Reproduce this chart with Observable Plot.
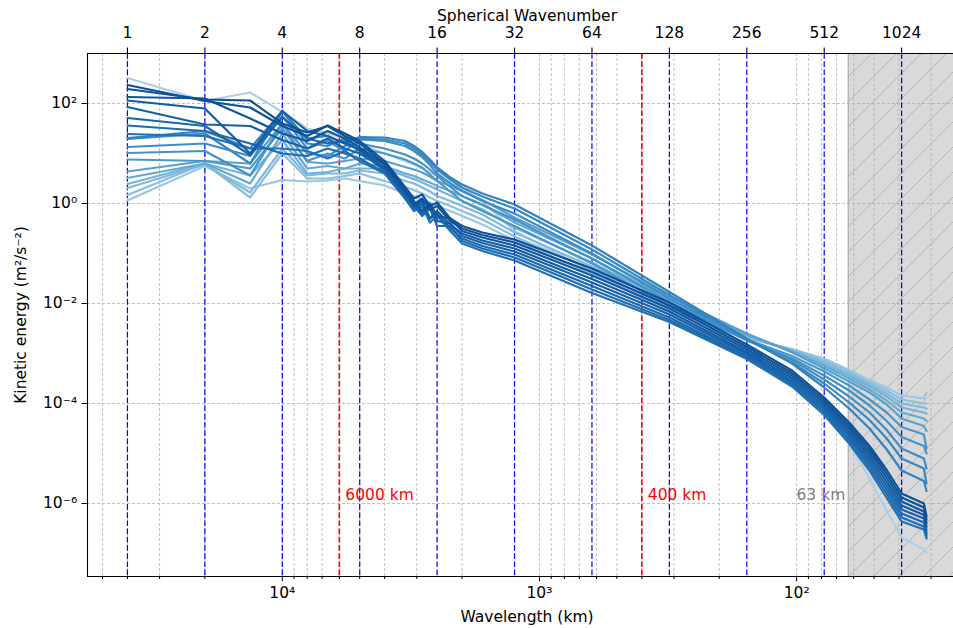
<!DOCTYPE html>
<html><head><meta charset="utf-8">
<script src="https://cdn.jsdelivr.net/npm/d3@7"></script>
<script src="https://cdn.jsdelivr.net/npm/@observablehq/plot@0.6"></script>
<style>
html,body{margin:0;padding:0;overflow:hidden;background:#fff;width:953px;height:628px}
#chart{width:966px;height:628px}
#chart svg{max-width:none !important;display:block}
</style>
</head><body><div id="chart"></div><script>
// ---------- data ----------
const EARTH_KM = 40000; // wavelength (km) = EARTH_KM / spherical wavenumber
const wavenumbers = [1,2,3,4,5,6,7,8,10,12,13,14,15,16,18,20,24,32,48,64,128,256,384,512,640,768,896,1024,1250,1280];
const seriesNames = ["s01","s02","s03","s04","s05","s06","s07","s08","s09","s10",
                     "s11","s12","s13","s14","s15","s16","s17","s18","s19","s20"];
// log10 of kinetic energy (m^2/s^2) at each wavenumber
const s01 = [2.51,2.05,2.22,1.83,1.5,1.4,1.3,1.2,1.0,0.85,0.78,0.7,0.62,0.55,0.42,0.3,0.05,-0.55,-1.02,-1.35,-2.2,-3.0,-3.55,-4.15,-4.8,-5.5,-6.15,-6.68,-6.92,-6.98];
const s02 = [2.37,2.05,1.92,1.55,1.35,1.56,1.4,1.25,0.85,0.33,0.1,0.18,-0.05,0.02,-0.3,-0.45,-0.58,-0.72,-1.06,-1.3,-1.98,-2.82,-3.34,-3.88,-4.38,-4.85,-5.33,-5.8,-6.0,-6.26];
const s03 = [2.29,2.08,2.06,1.6,1.42,1.55,1.35,1.2,0.8,0.28,-0.02,0.1,-0.12,-0.05,-0.35,-0.5,-0.63,-0.78,-1.13,-1.37,-2.04,-2.87,-3.39,-3.93,-4.44,-4.92,-5.41,-5.88,-6.08,-6.33];
const s04 = [2.13,2.1,1.7,1.4,1.25,1.45,1.3,1.12,0.78,0.25,0.05,-0.15,0.0,-0.25,-0.3,-0.55,-0.68,-0.84,-1.19,-1.44,-2.1,-2.92,-3.44,-3.98,-4.5,-4.99,-5.49,-5.96,-6.16,-6.4];
const s05 = [2.06,1.9,1.0,1.85,1.45,1.35,1.2,1.08,0.72,0.2,-0.05,0.05,-0.3,-0.15,-0.42,-0.6,-0.74,-0.9,-1.26,-1.51,-2.16,-2.97,-3.49,-4.03,-4.56,-5.06,-5.57,-6.04,-6.23,-6.47];
const s06 = [1.93,1.58,1.55,1.27,1.1,1.3,1.1,1.0,0.7,0.18,0.0,-0.2,-0.05,-0.35,-0.4,-0.65,-0.79,-0.96,-1.32,-1.58,-2.22,-3.01,-3.54,-4.08,-4.62,-5.13,-5.65,-6.12,-6.3,-6.54];
const s07 = [1.71,1.55,0.97,1.73,1.3,1.2,1.25,1.05,0.65,0.15,-0.1,0.0,-0.3,-0.2,-0.5,-0.7,-0.85,-1.02,-1.39,-1.65,-2.28,-3.05,-3.58,-4.13,-4.68,-5.2,-5.73,-6.2,-6.38,-6.6];
const s08 = [1.56,1.45,1.2,1.0,0.95,1.1,1.0,0.9,0.62,0.13,-0.05,-0.25,-0.1,-0.45,-0.45,-0.75,-0.9,-1.08,-1.45,-1.72,-2.33,-3.08,-3.62,-4.18,-4.74,-5.27,-5.81,-6.28,-6.46,-6.65];
const s09 = [1.39,1.35,1.1,1.1,1.05,0.9,1.05,0.85,0.6,0.1,-0.15,-0.05,-0.38,-0.25,-0.55,-0.8,-0.95,-1.14,-1.52,-1.79,-2.37,-3.11,-3.66,-4.23,-4.8,-5.34,-5.89,-6.36,-6.52,-6.7];
const s10 = [1.31,1.45,1.1,1.85,1.3,1.35,1.2,1.33,1.32,1.25,1.15,1.03,0.88,0.72,0.52,0.38,0.2,-0.02,-0.5,-0.84,-1.77,-2.7,-3.2,-3.68,-4.1,-4.5,-4.92,-5.34,-5.55,-5.75];
const s11 = [1.29,1.4,0.8,1.85,1.2,1.15,1.3,1.3,1.28,1.2,1.1,0.98,0.83,0.68,0.48,0.32,0.14,-0.1,-0.58,-0.92,-1.83,-2.72,-3.18,-3.6,-3.98,-4.33,-4.7,-5.1,-5.3,-5.6];
const s12 = [1.13,1.2,0.95,1.75,1.1,1.25,1.05,1.28,1.25,1.15,1.05,0.93,0.77,0.6,0.4,0.25,0.05,-0.2,-0.67,-1.0,-1.9,-2.73,-3.13,-3.52,-3.86,-4.18,-4.53,-4.9,-5.1,-5.3];
const s13 = [1.01,1.05,0.56,1.6,1.0,0.95,1.15,1.2,1.1,0.98,0.9,0.8,0.68,0.55,0.33,0.15,-0.03,-0.32,-0.78,-1.1,-1.97,-2.74,-3.1,-3.44,-3.74,-4.04,-4.35,-4.67,-4.85,-5.0];
const s14 = [0.88,0.85,0.7,1.5,0.85,1.0,0.9,1.1,1.0,0.88,0.8,0.72,0.58,0.45,0.24,0.05,-0.15,-0.45,-0.89,-1.2,-2.05,-2.72,-3.05,-3.36,-3.64,-3.92,-4.18,-4.47,-4.62,-4.9];
const s15 = [0.64,0.85,0.8,1.6,0.83,0.8,0.85,0.9,0.85,0.73,0.68,0.62,0.54,0.45,0.35,0.25,0.07,-0.28,-0.71,-1.02,-1.86,-2.6,-2.98,-3.3,-3.56,-3.78,-4.02,-4.3,-4.45,-4.55];
const s16 = [0.51,0.8,0.4,1.4,0.7,0.75,0.7,0.8,0.75,0.6,0.55,0.48,0.42,0.35,0.25,0.15,-0.02,-0.38,-0.8,-1.1,-1.92,-2.62,-2.96,-3.25,-3.5,-3.72,-3.94,-4.18,-4.3,-4.35];
const s17 = [0.39,0.8,0.56,1.27,0.6,0.63,0.7,0.7,0.7,0.55,0.49,0.42,0.35,0.28,0.16,0.05,-0.12,-0.48,-0.89,-1.18,-1.97,-2.64,-2.95,-3.22,-3.45,-3.66,-3.86,-4.08,-4.18,-4.2];
const s18 = [0.31,0.78,0.22,1.1,0.56,0.6,0.6,0.66,0.6,0.45,0.4,0.32,0.24,0.15,0.05,-0.05,-0.22,-0.58,-0.98,-1.26,-2.02,-2.66,-2.93,-3.18,-3.41,-3.62,-3.8,-4.0,-4.08,-4.1];
const s19 = [0.17,0.8,0.12,1.0,0.5,0.5,0.55,0.6,0.45,0.33,0.27,0.2,0.12,0.05,-0.05,-0.15,-0.32,-0.66,-1.05,-1.33,-2.07,-2.68,-2.92,-3.14,-3.37,-3.58,-3.74,-3.92,-4.0,-4.0];
const s20 = [0.06,0.75,0.3,0.47,0.44,0.46,0.5,0.45,0.36,0.2,0.15,0.08,0.02,-0.05,-0.15,-0.25,-0.42,-0.74,-1.13,-1.4,-2.12,-2.7,-2.91,-3.1,-3.33,-3.54,-3.68,-3.84,-3.9,-3.78];
const log10Energy = [s01,s02,s03,s04,s05,s06,s07,s08,s09,s10,s11,s12,s13,s14,s15,s16,s17,s18,s19,s20];

const topWavenumbers = [1,2,4,8,16,32,64,128,256,512,1024];
const markerWavelengths = [6000, 400];
const markerLabels = ["6000 km", "400 km"];
const cutoffWavelength = 63;
const cutoffLabel = "63 km";
const bottomMajorTicks = [1e4, 1e3, 1e2];
const bottomMinorTicks = [50000,40000,30000,20000,9000,8000,7000,6000,5000,4000,3000,2000,
                          900,800,700,600,500,400,300,200,90,80,70,60,50,40,30];
const yTicks = [1e2, 1e0, 1e-2, 1e-4, 1e-6];

// ---------- styles ----------
const lineShades = [0.33,0.88,0.87,0.85,0.83,0.81,0.79,0.77,0.75,0.68,0.66,0.64,0.62,0.6,0.56,0.52,0.48,0.45,0.42,0.38];
const xDomain = [10 ** 4.7574, 10 ** 1.3395];
const yDomain = [10 ** -7.46, 10 ** 3];
const FS = 15.5;

const SUP = {"-":"⁻","0":"⁰","1":"¹","2":"²","3":"³","4":"⁴","5":"⁵","6":"⁶","7":"⁷","8":"⁸","9":"⁹"};
const pow10 = d => "10" + String(Math.round(Math.log10(d))).split("").map(c => SUP[c]).join("");

const order = d3.range(seriesNames.length).sort((a, b) => lineShades[a] - lineShades[b]);
const rows = [];
for (const i of order) {
  wavenumbers.forEach((n, j) => rows.push({series: seriesNames[i], km: EARTH_KM / n, E: 10 ** log10Energy[i][j]}));
}

const chart = Plot.plot({
  width: 966, height: 628,
  marginLeft: 87, marginRight: 0, marginTop: 53, marginBottom: 52,
  style: {fontFamily: "'DejaVu Sans', sans-serif", fontSize: FS + "px", background: "transparent", maxWidth: "none", overflow: "visible"},
  x: {type: "log", domain: xDomain},
  y: {type: "log", domain: yDomain},
  color: {type: "ordinal", domain: seriesNames, range: lineShades.map(t => d3.interpolateBlues(t))},
  marks: [
    Plot.rect([cutoffWavelength], {x1: d => d, x2: xDomain[1], fill: "#d9d9d9"}),
    Plot.rect([cutoffWavelength], {x1: d => d, x2: xDomain[1], fill: "url(#hatch)"}),
    Plot.ruleX([cutoffWavelength], {stroke: "#a6a6a6", strokeWidth: 1}),
    Plot.ruleX([...bottomMajorTicks, ...bottomMinorTicks], {stroke: "#b0b0b0", strokeWidth: 0.8, strokeDasharray: "3,2"}),
    Plot.ruleY(yTicks, {stroke: "#b0b0b0", strokeWidth: 0.8, strokeDasharray: "3,2"}),
    Plot.ruleX(topWavenumbers, {x: n => EARTH_KM / n, stroke: "blue", strokeWidth: 1.2, strokeDasharray: "5.7,2.5"}),
    Plot.ruleX(markerWavelengths, {stroke: "red", strokeWidth: 1.6, strokeDasharray: "5.7,2.5"}),
    Plot.line(rows, {x: "km", y: "E", z: "series", stroke: "series", strokeWidth: 2.2, strokeLinejoin: "round", strokeLinecap: "round"}),
    Plot.text(markerWavelengths, {x: d => d, y: 1e-6, text: (d, i) => markerLabels[i], textAnchor: "start", dx: 6, dy: -8.5, lineAnchor: "middle", fill: "red", fontSize: FS}),
    Plot.text([cutoffWavelength], {x: d => d, y: 1e-6, text: () => cutoffLabel, textAnchor: "end", dx: -3, dy: -8.5, lineAnchor: "middle", fill: "gray", fontSize: FS}),
    // spines
    Plot.ruleY([yDomain[1], yDomain[0]], {stroke: "black", strokeWidth: 1.1}),
    Plot.ruleX([xDomain[0]], {stroke: "black", strokeWidth: 1.1}),
    // bottom & left axes
    Plot.axisX(bottomMajorTicks, {anchor: "bottom", tickSize: 5.4, tickPadding: 5, tickFormat: pow10, label: null, fontSize: FS}),
    Plot.axisX(bottomMinorTicks, {anchor: "bottom", tickSize: 3, tickFormat: () => "", label: null}),
    Plot.axisY(yTicks, {anchor: "left", tickSize: 5.4, tickPadding: 5, tickFormat: pow10, label: null, fontSize: FS}),
    // top axis (spherical wavenumber)
    Plot.ruleX(topWavenumbers, {x: n => EARTH_KM / n, y1: yDomain[1], y2: yDomain[1], insetTop: -5.4, stroke: "black", strokeWidth: 1.1}),
    Plot.text(topWavenumbers, {x: n => EARTH_KM / n, frameAnchor: "top", dy: -20, lineAnchor: "middle", text: n => String(n), fontSize: FS}),
    // titles
    Plot.text(["Spherical Wavenumber"], {frameAnchor: "top", dy: -37, lineAnchor: "middle", text: d => d, fontSize: FS}),
    Plot.text(["Wavelength (km)"], {frameAnchor: "bottom", dy: 41, lineAnchor: "middle", text: d => d, fontSize: FS}),
    Plot.text(["Kinetic energy (m²/s⁻²)"], {frameAnchor: "left", dx: -66, rotate: -90, textAnchor: "middle", lineAnchor: "middle", text: d => d, fontSize: FS})
  ]
});

const ns = "http://www.w3.org/2000/svg";
const defs = document.createElementNS(ns, "defs");
defs.innerHTML = '<pattern id="hatch" patternUnits="userSpaceOnUse" width="25" height="25">' +
  '<path d="M0,25 L25,0 M-6.25,6.25 L6.25,-6.25 M18.75,31.25 L31.25,18.75" stroke="#b3b3b3" stroke-width="1"/></pattern>';
chart.insertBefore(defs, chart.firstChild);
document.getElementById("chart").appendChild(chart);
</script></body></html>
